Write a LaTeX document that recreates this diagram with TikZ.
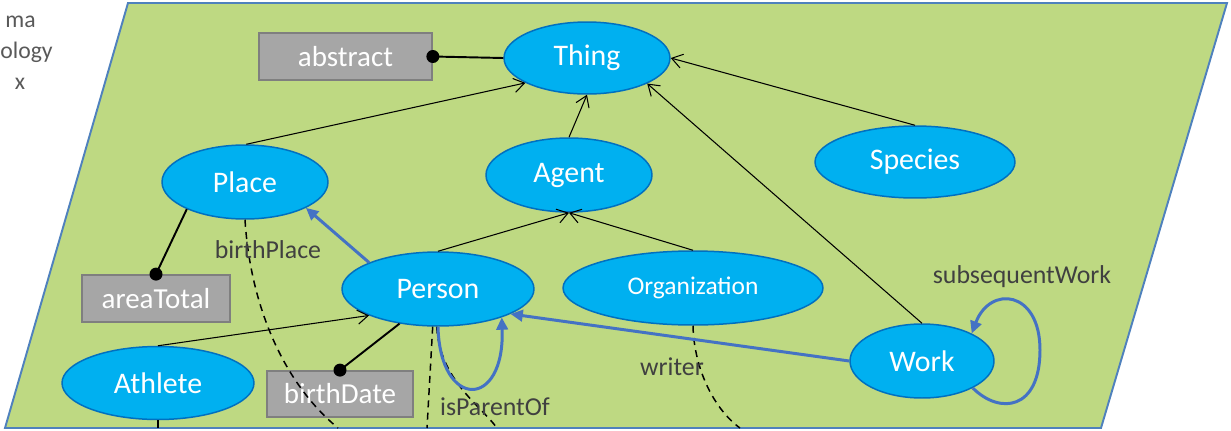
\documentclass[tikz,border=0pt]{standalone}
\usepackage{fontspec}
\setmainfont{Carlito}
\usetikzlibrary{shapes.geometric,arrows.meta}
\definecolor{bgreen}{RGB}{190,217,130}
\definecolor{framecol}{RGB}{79,129,189}
\definecolor{ellfill}{RGB}{0,176,240}
\definecolor{elldraw}{RGB}{0,112,192}
\definecolor{boxfill}{RGB}{166,166,166}
\definecolor{boxdraw}{RGB}{127,127,127}
\definecolor{relblue}{RGB}{68,114,196}
\definecolor{lblgray}{RGB}{64,64,64}
\definecolor{sidegray}{RGB}{89,89,89}
\begin{document}
\begin{tikzpicture}[x=0.02cm,y=-0.02cm,
 cls/.style={ellipse,draw=elldraw,fill=ellfill,line width=0.85pt,text=white,inner sep=0pt,font=\fontsize{17}{20}\selectfont},
 lit/.style={rectangle,draw=boxdraw,fill=boxfill,line width=1pt,text=white,inner sep=0pt,font=\fontsize{16.5}{20}\selectfont,minimum height=0.94cm},
 sub/.style={line width=0.6pt,-{Straight Barb[length=6pt,width=8pt]}},
 rel/.style={draw=relblue,line width=1.7pt,-{Triangle[length=7pt,width=6.5pt]}},
 attr/.style={line width=1.1pt},
 inst/.style={line width=0.85pt,dash pattern=on 4pt off 3pt},
 lab/.style={text=lblgray,font=\fontsize{14.7}{18}\selectfont,inner sep=0pt},
 sidetext/.style={text=sidegray,font=\fontsize{13.5}{16}\selectfont,inner sep=0pt}
]
\useasboundingbox (0,0) rectangle (1231,430);
\filldraw[fill=bgreen,draw=framecol,line width=1.1pt] (128,3) -- (1227,3) -- (1101,428) -- (5,428) -- cycle;

% side text (as visible)
\node[sidetext,anchor=base east] (s1) at (36,27) {ma};
\node[sidetext,anchor=base west] (s2) at (0,58) {ology};
\node[sidetext,anchor=base] (s3) at (20,89) {x};

% classes
\node[cls,minimum width=3.32cm,minimum height=1.44cm] (Thing) at (587,58) {Thing};
\node[cls,minimum width=3.32cm,minimum height=1.48cm] (Place) at (245,182) {Place};
\node[cls,minimum width=3.32cm,minimum height=1.48cm] (Agent) at (569,175) {Agent};
\node[cls,minimum width=4.00cm,minimum height=1.44cm] (Species) at (915,162) {Species};
\node[cls,minimum width=3.84cm,minimum height=1.48cm] (Person) at (438,289) {Person};
\node[cls,minimum width=5.20cm,minimum height=1.48cm,font=\fontsize{14.5}{18}\selectfont] (Organization) at (693,288) {Organization};
\node[cls,minimum width=2.88cm,minimum height=1.48cm] (Work) at (922,361) {Work};
\node[cls,minimum width=3.84cm,minimum height=1.46cm] (Athlete) at (158,383) {Athlete};

% literals
\node[lit,minimum width=3.46cm] (abstract) at (345.5,56.5) {abstract};
\node[lit,minimum width=2.96cm] (areaTotal) at (156,298.5) {areaTotal};
\node[lit,minimum width=2.92cm,minimum height=0.92cm] (birthDate) at (340,394) {birthDate};

% coordinates at the lower edge
\coordinate (athEnd) at (158,428);
\coordinate (bpEnd) at (338,428);
\coordinate (pe1) at (427,428);
\coordinate (pe2) at (497,428);
\coordinate (oe) at (740,428);
\coordinate (loopR) at (1040,350);

% subclass links
\draw[sub] (Place.88) -- (Thing.202);
\draw[sub] (Agent.90) -- (Thing.270);
\draw[sub] (Work.90) -- (Thing.-23);
\draw[sub] (Species.90) -- (Thing.0);
\draw[sub] (Person.90) -- (Agent.270);
\draw[sub] (Organization.90) -- (Agent.270);
\draw[sub] (Athlete.90) -- (Person.201);
\draw[line width=0.6pt] (Athlete.270) -- (athEnd);

% attributes
\draw[attr] (abstract.east) -- (Thing.west);
\fill (abstract.east) circle[radius=0.13cm];
\draw[attr] (Place.205) -- (areaTotal.north);
\fill (areaTotal.north) circle[radius=0.13cm];
\draw[attr] (Person.222.5) -- (birthDate.north);
\fill (birthDate.north) circle[radius=0.13cm];

% instance (dashed) links
\draw[inst] (Place.270) .. controls (250,300) and (280,380) .. (bpEnd);
\draw[inst] (Person.262) -- (pe1);
\draw[inst] (Person.268) .. controls (440,380) and (480,405) .. (pe2);
\draw[inst] (Organization.270) .. controls (694,370) and (715,410) .. (oe);

% relations
\draw[rel] (Person.159) -- (Place.-23);
\draw[rel] (Person.270) .. controls (440,410) and (505,410) .. (Person.-24);
\draw[rel] (Work.180) -- (Person.-19);
\draw[rel] (Work.-28) .. controls (1000,415) and (1040,410) .. (loopR) .. controls (1040,290) and (990,285) .. (Work.29);

% labels
\node[lab] (lbp) at (268,250) {birthPlace};
\node[lab] (lip) at (495,407) {isParentOf};
\node[lab] (lwr) at (672,367) {writer};
\node[lab] (lsw) at (1022,277) {subsequentWork};
\end{tikzpicture}
\end{document}
